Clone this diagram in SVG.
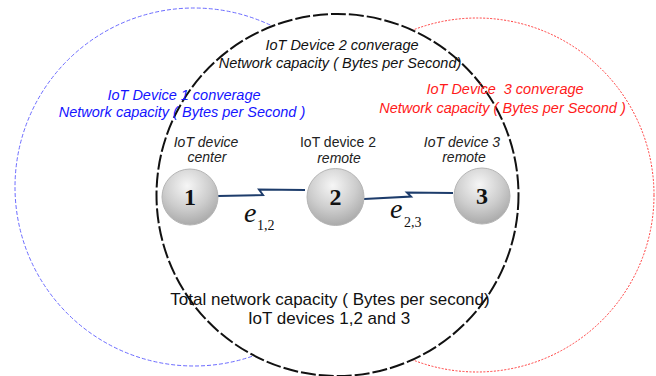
<svg xmlns="http://www.w3.org/2000/svg" width="656" height="376" viewBox="0 0 656 376">
<defs>
<radialGradient id="sphere" cx="45%" cy="30%" r="75%">
<stop offset="0" stop-color="#f6f6f6"/>
<stop offset="0.55" stop-color="#cdcdcd"/>
<stop offset="1" stop-color="#a4a4a4"/>
</radialGradient>
</defs>
<style>
text{font-family:"Liberation Sans",Arial,sans-serif}
.it{font-style:italic}
.cov{font-size:14.5px;text-anchor:middle;font-style:italic}
.lbl{font-size:14px;text-anchor:middle;fill:#222}
.num{font-family:"Liberation Serif","Times New Roman",serif;font-weight:bold;font-size:24px;text-anchor:middle;fill:#111}
.node circle{fill:url(#sphere);stroke:#b5b5b5;stroke-width:1}
.e{font-family:"Liberation Serif","Times New Roman",serif;font-style:italic;font-size:28px;fill:#111}
.sub{font-family:"Liberation Serif","Times New Roman",serif;font-size:14px;fill:#111}
.bolt{fill:none;stroke:#1d3c6b;stroke-width:2;stroke-linejoin:miter}
</style>
<g id="coverage-1"><circle cx="194" cy="187" r="179" fill="none" stroke="#6b6bff" stroke-width="1" stroke-dasharray="4 2"/></g>
<g id="coverage-3"><circle cx="477" cy="195" r="177" fill="none" stroke="#ff3b3b" stroke-width="1" stroke-dasharray="2 1.5"/></g>
<g id="coverage-2"><circle cx="337.5" cy="195" r="181" fill="#fff" stroke="#111" stroke-width="2" stroke-dasharray="15 3"/></g>
<g id="texts">
<text class="cov" x="342" y="50" fill="#111">IoT Device 2 converage</text>
<text class="cov" x="340" y="68" fill="#111">Network capacity ( Bytes per Second)</text>
<text class="cov" x="184" y="99.5" fill="#1414ff">IoT Device 1 converage</text>
<text class="cov" x="182" y="117" fill="#1414ff">Network capacity ( Bytes per Second )</text>
<text class="cov" x="505" y="94" fill="#ff1a1a" xml:space="preserve">IoT Device  3 converage</text>
<text class="cov" x="502.5" y="112.5" fill="#ff1a1a">Network capacity ( Bytes per Second )</text>
<text x="330" y="305" font-size="17" text-anchor="middle" fill="#111">Total network capacity ( Bytes per second)</text>
<text x="329" y="323.5" font-size="17" text-anchor="middle" fill="#111">IoT devices 1,2 and 3</text>
</g>
<g id="connectors">
<polyline class="bolt" points="218,196 263,195 259,189.5 305,190"/>
<polyline class="bolt" points="364,199 411,196.5 407,192.5 453,193"/>
<text class="e" x="244" y="222">e</text><text class="sub" x="257" y="230">1,2</text>
<text class="e" x="390" y="218">e</text><text class="sub" x="404" y="227">2,3</text>
</g>
<g id="node-1" class="node">
<text class="lbl it" x="206" y="147">IoT device</text>
<text class="lbl it" x="207" y="162">center</text>
<circle cx="190" cy="197" r="28"/>
<text class="num" x="190" y="205">1</text>
</g>
<g id="node-2" class="node">
<text class="lbl" x="338" y="147">IoT device 2</text>
<text class="lbl it" x="339" y="163">remote</text>
<circle cx="335.5" cy="197" r="28.5"/>
<text class="num" x="335.5" y="205">2</text>
</g>
<g id="node-3" class="node">
<text class="lbl it" x="462" y="147">IoT device 3</text>
<text class="lbl it" x="464" y="162">remote</text>
<circle cx="482" cy="196" r="28"/>
<text class="num" x="482" y="204">3</text>
</g>
</svg>
